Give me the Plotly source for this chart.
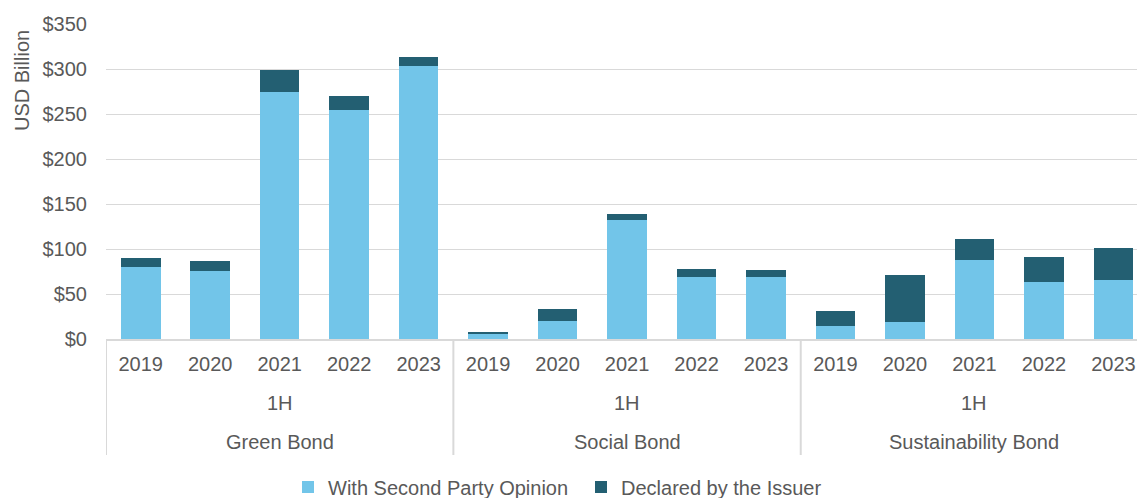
import plotly.graph_objects as go

groups = ["Green Bond", "Social Bond", "Sustainability Bond"]
years = ["2019", "2020", "2021", "2022", "2023"]
period = "1H"

# values in USD billion, order: Green 2019..2023, Social 2019..2023, Sustainability 2019..2023
spo = [80.5, 76, 275, 254, 303,
       6, 20, 132, 68.5, 68.5,
       14, 18.5, 88, 63.5, 65.5]
declared = [9.5, 10.5, 24, 16, 10,
            1, 13, 7, 9, 8.5,
            17, 52.5, 23.5, 28, 35.5]

series_names = ["With Second Party Opinion", "Declared by the Issuer"]
colors = ["#72C5E9", "#235F72"]

n_years = len(years)
x_idx = list(range(len(groups) * n_years))
tick_text = years * len(groups)

FONT = "Liberation Sans, Arial, sans-serif"
TXT = "#595959"
GRID = "#D9D9D9"

fig = go.Figure()
for name, vals, col in zip(series_names, [spo, declared], colors):
    fig.add_trace(go.Bar(
        x=x_idx, y=vals, name=name, marker_color=col,
        marker_line_width=0, width=0.57,
    ))

H = 315.0  # plot height px
def py(px_below_axis):
    return -px_below_axis / H

shapes = []
for g in range(len(groups)):
    shapes.append(dict(type="line", xref="x", yref="paper",
                       x0=g * n_years - 0.5, x1=g * n_years - 0.5,
                       y0=0, y1=py(116), line=dict(color=GRID, width=2)))

annotations = []
for g, gname in enumerate(groups):
    cx = g * n_years + (n_years - 1) / 2
    annotations.append(dict(xref="x", yref="paper", x=cx, y=py(64), text=period,
                            showarrow=False, yanchor="middle",
                            font=dict(family=FONT, size=20, color=TXT)))
    annotations.append(dict(xref="x", yref="paper", x=cx, y=py(102.5), text=gname,
                            showarrow=False, yanchor="middle",
                            font=dict(family=FONT, size=20, color=TXT)))
annotations.append(dict(xref="paper", yref="paper", x=-106 / 1031 + 22 / 1031, y=(339 - 80) / H,
                        text="USD Billion", textangle=-90, showarrow=False,
                        xanchor="center", yanchor="middle",
                        font=dict(family=FONT, size=20, color=TXT)))

fig.update_layout(
    width=1137, height=498,
    margin=dict(l=106, r=0, t=24, b=159, autoexpand=False),
    paper_bgcolor="white", plot_bgcolor="white",
    barmode="stack",
    font=dict(family=FONT, size=20, color=TXT),
    showlegend=True,
    legend=dict(orientation="h", xanchor="left", yanchor="middle",
                x=(302 - 14 - 106) / 1031, y=py(148), font=dict(size=20, color=TXT),
                itemwidth=30, tracegroupgap=0, traceorder="normal",
                entrywidth=248, entrywidthmode="pixels"),
    xaxis=dict(range=[-0.5, 14.34], tickmode="array", tickvals=x_idx, ticktext=tick_text,
               showgrid=False, zeroline=False, showline=True, linecolor=GRID, linewidth=2,
               ticks="", ticklabelstandoff=6, tickfont=dict(size=20, color=TXT), fixedrange=True),
    yaxis=dict(range=[0, 350], dtick=50, tickprefix="$", showgrid=True, gridcolor=GRID,
               gridwidth=1.3, zeroline=False, showline=False, ticks="",
               ticklabelstandoff=18, tickfont=dict(size=20, color=TXT)),
    shapes=shapes, annotations=annotations,
    bargap=0.43,
)

fig.write_html("out.html")
